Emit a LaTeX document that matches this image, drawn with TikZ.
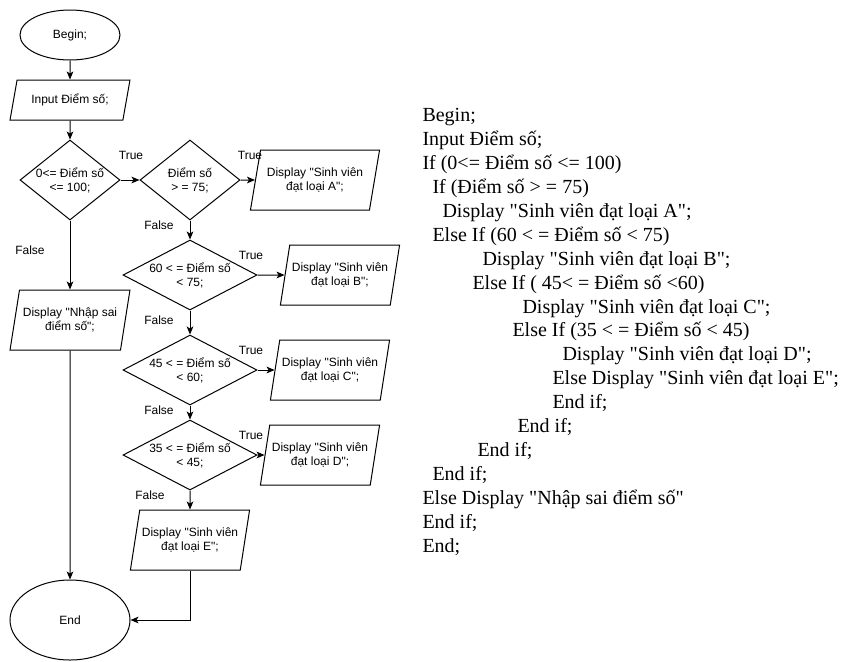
\documentclass[tikz,border=0pt]{standalone}
\usepackage{fontspec}
\setmainfont{Liberation Serif}[Ligatures=TeXOff]
\setsansfont{Liberation Sans}[Ligatures=TeXOff]
\usetikzlibrary{shapes.geometric,arrows.meta}

\begin{document}
\begin{tikzpicture}[x=0.75pt,y=-0.75pt,line width=0.75pt,>={Stealth[length=6pt,width=5pt,inset=1.5pt]}]
\tikzstyle{terminal}=[ellipse,draw,inner sep=0pt,font=\sffamily\fontsize{9}{10.5}\selectfont]
\tikzstyle{decision}=[diamond,draw,inner sep=0pt,aspect=1.25,align=center,minimum width=75pt,minimum height=60pt,font=\sffamily\fontsize{9}{10.5}\selectfont]
\tikzstyle{widedecision}=[decision,aspect=1.91,minimum width=100.5pt,minimum height=52.5pt]
\tikzstyle{io}=[trapezium,trapezium left angle=70,trapezium right angle=110,trapezium stretches=true,draw,inner sep=0pt,align=center,minimum width=90pt,minimum height=45pt,font=\sffamily\fontsize{9}{10.5}\selectfont]
\tikzstyle{answer}=[inner sep=0pt,font=\sffamily\fontsize{9}{10.5}\selectfont]
\tikzstyle{codeline}=[anchor=base west,inner sep=0pt,font=\fontsize{15}{18}\selectfont]
\useasboundingbox[fill=white] (0,0) rectangle (841,661);
% flowchart
\node[terminal,minimum width=75pt,minimum height=37.5pt] (begin) at (70,35) {Begin;};
\node[io,minimum height=30pt,trapezium left angle=67,trapezium right angle=113] (input) at (70,100) {Input Điểm số;};
\node[decision] (d1) at (70,180) {0<= Điểm số\\<= 100;};
\node[decision] (d2) at (190,180) {Điểm số\\> = 75;};
\node[io,minimum width=97.5pt] (dispA) at (315,180) {Display "Sinh viên\\đạt loại A";};
\node[widedecision] (d3) at (190,275) {60 < = Điểm số\\< 75;};
\node[io] (dispB) at (340,275) {Display "Sinh viên\\đạt loại B";};
\node[widedecision] (d4) at (190,370) {45 < = Điểm số\\< 60;};
\node[io] (dispC) at (330,370) {Display "Sinh viên\\đạt loại C";};
\node[widedecision] (d5) at (190,455) {35 < = Điểm số\\< 45;};
\node[io] (dispD) at (320,455) {Display "Sinh viên\\đạt loại D";};
\node[io] (dispE) at (190,540) {Display "Sinh viên\\đạt loại E";};
\node[io] (wrong) at (70,320) {Display "Nhập sai\\điểm số";};
\node[terminal,minimum width=90pt,minimum height=60pt] (end) at (70,620) {End};
\draw[->] (begin) -- (input);
\draw[->] (input) -- (d1);
\draw[->] (d1) -- (d2);
\draw[->] (d2) -- (dispA);
\draw[->] (d1) -- (wrong);
\draw[->] (wrong) -- (end);
\draw[->] (d2) -- (d3);
\draw[->] (d3) -- (dispB);
\draw[->] (d3) -- (d4);
\draw[->] (d4) -- (dispC);
\draw[->] (d4) -- (d5);
\draw[->] (d5) -- (dispD);
\draw[->] (d5) -- (dispE);
\draw[->] (dispE.south) |- (end);
\node[answer] (t1) at (131,155) {True};
\node[answer] (t2) at (250,155) {True};
\node[answer] (t3) at (251,255) {True};
\node[answer] (t4) at (251,350) {True};
\node[answer] (t5) at (251,435) {True};
\node[answer] (f1) at (30,250) {False};
\node[answer] (f2) at (159,225) {False};
\node[answer] (f3) at (159,320) {False};
\node[answer] (f4) at (159,410) {False};
\node[answer] (f5) at (150,495) {False};
% pseudo code
\node[codeline] (l1) at (422,121) {Begin;};
\node[codeline] (l2) at (422,145) {Input Điểm số;};
\node[codeline] (l3) at (422,169) {If (0<= Điểm số <= 100)};
\node[codeline] (l4) at (432,193) {If (Điểm số > = 75)};
\node[codeline] (l5) at (442,217) {Display "Sinh viên đạt loại A";};
\node[codeline] (l6) at (432,241) {Else If (60 < = Điểm số < 75)};
\node[codeline] (l7) at (482,265) {Display "Sinh viên đạt loại B";};
\node[codeline] (l8) at (472,289) {Else If ( 45< = Điểm số <60)};
\node[codeline] (l9) at (522,313) {Display "Sinh viên đạt loại C";};
\node[codeline] (l10) at (512,336) {Else If (35 < = Điểm số < 45)};
\node[codeline] (l11) at (562,360) {Display "Sinh viên đạt loại D";};
\node[codeline] (l12) at (552,384) {Else Display "Sinh viên đạt loại E";};
\node[codeline] (l13) at (552,408) {End if;};
\node[codeline] (l14) at (517,432) {End if;};
\node[codeline] (l15) at (477,456) {End if;};
\node[codeline] (l16) at (432,480) {End if;};
\node[codeline] (l17) at (422,504) {Else Display "Nhập sai điểm số"};
\node[codeline] (l18) at (422,528) {End if;};
\node[codeline] (l19) at (422,552) {End;};
\end{tikzpicture}
\end{document}
